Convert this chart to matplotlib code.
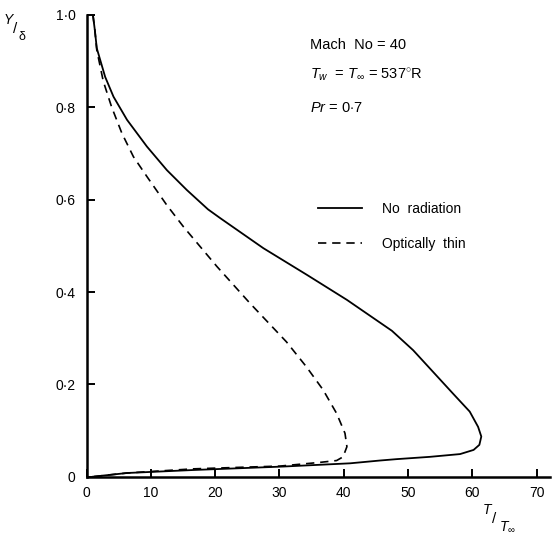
import matplotlib
matplotlib.use("Agg")
import matplotlib.pyplot as plt

# temperature ratio T/T_inf vs Y/delta
t_norad = [1.0, 1.3, 1.6, 2.9, 4.2, 6.3, 9.4, 12.5, 15.6, 18.9, 20.8, 27.5, 34.3,
           40.5, 47.5, 50.8, 53.9, 57.0, 59.6, 60.9, 61.4, 61.1, 60.2,
           58.1, 53.4, 48.2, 45.6, 41.0, 30.6, 16.6, 6.3, 1.0]
y_norad = [1.0, 0.967, 0.928, 0.866, 0.823, 0.773, 0.715, 0.664, 0.621, 0.579,
           0.560, 0.495, 0.437, 0.383, 0.316, 0.274, 0.227, 0.180, 0.141,
           0.108, 0.087, 0.069, 0.058, 0.049, 0.043, 0.038, 0.035, 0.029, 0.022,
           0.0145, 0.008, 0.0]

t_thin = [1.0, 1.3, 1.6, 2.6, 3.9, 5.5, 7.3, 9.4, 12.5, 15.1, 20.3, 25.4, 31.1,
          34.2, 36.8, 38.9, 40.2, 40.5, 39.9, 38.9, 36.3, 33.2, 30.1, 25.4,
          16.6, 6.3, 1.0]
y_thin = [1.0, 0.967, 0.924, 0.857, 0.801, 0.744, 0.693, 0.650, 0.588, 0.541,
          0.455, 0.376, 0.292, 0.238, 0.188, 0.137, 0.094, 0.065, 0.043, 0.035,
          0.031, 0.027, 0.023, 0.021, 0.017, 0.008, 0.0]

xticks = [0, 10, 20, 30, 40, 50, 60, 70]
yticks = [0, 0.2, 0.4, 0.6, 0.8, 1.0]
ylabels = ["0", "0\u00b72", "0\u00b74", "0\u00b76", "0\u00b78", "1\u00b70"]

plt.rcParams["font.family"] = ["Liberation Sans", "DejaVu Sans"]
plt.rcParams["mathtext.fontset"] = "custom"
plt.rcParams["mathtext.it"] = "Liberation Sans:italic"
plt.rcParams["mathtext.rm"] = "Liberation Sans"

W, H = 558, 535
fig = plt.figure(figsize=(W / 100, H / 100), dpi=100)
ax = fig.add_axes([86.5 / W, 1 - 476.7 / H, (550 - 86.5) / W, (476.7 - 15) / H])

ax.plot(t_norad, y_norad, color="black", lw=1.3, label="No  radiation")
ax.plot(t_thin, y_thin, color="black", lw=1.2, linestyle=(0, (5, 3.5)),
        label="Optically  thin")

ax.set_xlim(0, (550 - 86.5) / 6.43)
ax.set_ylim(0, 1.0)
for s in ["top", "right"]:
    ax.spines[s].set_visible(False)
for s in ["left", "bottom"]:
    ax.spines[s].set_linewidth(1.8)

ax.set_xticks(xticks)
ax.set_xticklabels([str(v) for v in xticks])
ax.set_yticks(yticks)
ax.set_yticklabels(ylabels)
ax.tick_params(axis="both", direction="in", length=6, width=1.4, labelsize=10)
ax.tick_params(axis="x", pad=7)
ax.tick_params(axis="y", pad=8)

leg = ax.legend(loc="center left", bbox_to_anchor=(318 / W, 1 - 226.5 / H),
                bbox_transform=fig.transFigure, frameon=False, fontsize=10,
                handlelength=3.2, handletextpad=1.4, labelspacing=1.5,
                borderpad=0, borderaxespad=0)

# parameter block
fs = 10.5
fig.text(310 / W, 1 - 45 / H, "Mach  No = 40", fontsize=fs, va="center")
fig.text(310 / W, 1 - 75 / H, r"$T_w$  = $T_\infty$ = 537$^{\circ}$R", fontsize=fs, va="center")
fig.text(310 / W, 1 - 108 / H, r"$Pr$ = 0$\cdot$7", fontsize=fs, va="center")

# axis labels as slanted fractions
fig.text(8 / W, 1 - 20 / H, "Y", fontsize=10, style="italic", ha="center", va="center")
fig.text(15 / W, 1 - 29 / H, "/", fontsize=11, ha="center", va="center")
fig.text(22 / W, 1 - 37 / H, "\u03b4", fontsize=9, ha="center", va="center")

fig.text(487 / W, 1 - 510 / H, "T", fontsize=10, style="italic", ha="center", va="center")
fig.text(494 / W, 1 - 519 / H, "/", fontsize=11, ha="center", va="center")
fig.text(499 / W, 1 - 527 / H, r"$T_\infty$", fontsize=10, ha="left", va="center")

fig.savefig("out.png", dpi=100)
